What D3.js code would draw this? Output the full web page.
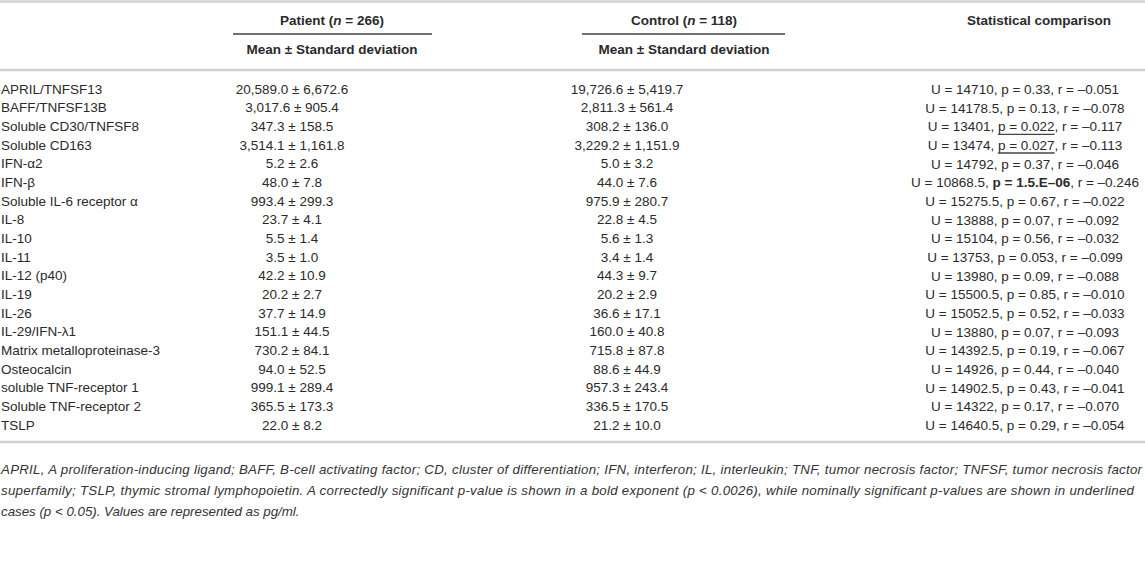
<!DOCTYPE html>
<html>
<head>
<meta charset="utf-8">
<script src="https://cdn.jsdelivr.net/npm/d3@7"></script>
<style>
  body { margin: 0; background: #fff; }
  text { font-family: "Liberation Sans", Arial, sans-serif; fill: #2a2a2a; }
</style>
</head>
<body>
<div id="table"></div>
<script>
var markers = ["APRIL/TNFSF13", "BAFF/TNFSF13B", "Soluble CD30/TNFSF8", "Soluble CD163", "IFN-\u03b12", "IFN-\u03b2",
  "Soluble IL-6 receptor \u03b1", "IL-8", "IL-10", "IL-11", "IL-12 (p40)", "IL-19", "IL-26", "IL-29/IFN-\u03bb1",
  "Matrix metalloproteinase-3", "Osteocalcin", "soluble TNF-receptor 1", "Soluble TNF-receptor 2", "TSLP"];
var patientMean = [20589.0, 3017.6, 347.3, 3514.1, 5.2, 48.0, 993.4, 23.7, 5.5, 3.5, 42.2, 20.2, 37.7, 151.1, 730.2, 94.0, 999.1, 365.5, 22.0];
var patientSD = [6672.6, 905.4, 158.5, 1161.8, 2.6, 7.8, 299.3, 4.1, 1.4, 1.0, 10.9, 2.7, 14.9, 44.5, 84.1, 52.5, 289.4, 173.3, 8.2];
var controlMean = [19726.6, 2811.3, 308.2, 3229.2, 5.0, 44.0, 975.9, 22.8, 5.6, 3.4, 44.3, 20.2, 36.6, 160.0, 715.8, 88.6, 957.3, 336.5, 21.2];
var controlSD = [5419.7, 561.4, 136.0, 1151.9, 3.2, 7.6, 280.7, 4.5, 1.3, 1.4, 9.7, 2.9, 17.1, 40.8, 87.8, 44.9, 243.4, 170.5, 10.0];
var uValues = ["14710", "14178.5", "13401", "13474", "14792", "10868.5", "15275.5", "13888", "15104", "13753", "13980",
  "15500.5", "15052.5", "13880", "14392.5", "14926", "14902.5", "14322", "14640.5"];
var pValues = ["0.33", "0.13", "0.022", "0.027", "0.37", "1.5.E\u201306", "0.67", "0.07", "0.56", "0.053", "0.09",
  "0.85", "0.52", "0.07", "0.19", "0.44", "0.43", "0.17", "0.29"];
var rValues = [-0.051, -0.078, -0.117, -0.113, -0.046, -0.246, -0.022, -0.092, -0.032, -0.099, -0.088,
  -0.010, -0.033, -0.093, -0.067, -0.040, -0.041, -0.070, -0.054];
// "u" = nominally significant (underlined), "b" = corrected significant (bold)
var pMark = ["", "", "u", "u", "", "b", "", "", "", "", "", "", "", "", "", "", "", "", ""];
var footnote = [
  "APRIL, A proliferation-inducing ligand; BAFF, B-cell activating factor; CD, cluster of differentiation; IFN, interferon; IL, interleukin; TNF, tumor necrosis factor; TNFSF, tumor necrosis factor",
  "superfamily; TSLP, thymic stromal lymphopoietin. A correctedly significant p-value is shown in a bold exponent (p < 0.0026), while nominally significant p-values are shown in underlined",
  "cases (p < 0.05). Values are represented as pg/ml."
];

var width = 1145, height = 561;
var svg = d3.select("#table").append("svg").attr("width", width).attr("height", height);

var fmt = d3.format(",.1f");
var fmtR = function (v) { return d3.format(".3f")(v).replace("\u2212", "\u2013").replace("-", "\u2013"); };

var y = d3.scalePoint().domain(markers).range([89, 425]);
var col = { label: 1, patient: 292, control: 627, stat: 1025 };
var head = { patient: 332, control: 684, stat: 1039 };

// rules
var rules = svg.append("g");
[1.5, 70, 442].forEach(function (yy) {
  rules.append("line").attr("x1", 0).attr("x2", width).attr("y1", yy).attr("y2", yy)
    .attr("stroke", "#d2d2d2").attr("stroke-width", 2.5);
});
[[233, 432], [582, 785]].forEach(function (s) {
  rules.append("line").attr("x1", s[0]).attr("x2", s[1]).attr("y1", 34).attr("y2", 34)
    .attr("stroke", "#444").attr("stroke-width", 1.3);
});

// header
var hdr = svg.append("g").attr("font-weight", "bold").attr("font-size", 13.5).attr("text-anchor", "middle")
  .attr("dominant-baseline", "central");
function groupHead(x, name, n) {
  var t = hdr.append("text").attr("x", x).attr("y", 20);
  t.append("tspan").text(name + " (");
  t.append("tspan").attr("font-style", "italic").text("n");
  t.append("tspan").text(" = " + n + ")");
  hdr.append("text").attr("x", x).attr("y", 49).text("Mean \u00b1 Standard deviation");
}
groupHead(head.patient, "Patient", 266);
groupHead(head.control, "Control", 118);
hdr.append("text").attr("x", head.stat).attr("y", 20).text("Statistical comparison");

// body rows
var body = svg.append("g").attr("font-size", 13.5).attr("dominant-baseline", "central");
var rows = body.selectAll("g.row").data(markers).join("g").attr("class", "row")
  .attr("transform", function (d) { return "translate(0," + y(d) + ")"; });

rows.append("text").attr("x", col.label).text(function (d) { return d; });
rows.append("text").attr("x", col.patient).attr("text-anchor", "middle")
  .text(function (d, i) { return fmt(patientMean[i]) + " \u00b1 " + fmt(patientSD[i]); });
rows.append("text").attr("x", col.control).attr("text-anchor", "middle")
  .text(function (d, i) { return fmt(controlMean[i]) + " \u00b1 " + fmt(controlSD[i]); });

var stat = rows.append("text").attr("x", col.stat).attr("text-anchor", "middle");
stat.append("tspan").text(function (d, i) { return "U = " + uValues[i] + ", "; });
stat.append("tspan")
  .attr("font-weight", function (d, i) { return pMark[i] === "b" ? "bold" : null; })
  .text(function (d, i) { return "p = " + pValues[i]; });
stat.append("tspan").text(function (d, i) { return ", r = " + fmtR(rValues[i]); });

// underline nominally significant p-values
stat.each(function (d, i) {
  if (pMark[i] !== "u") return;
  var node = this;
  var pre = ("U = " + uValues[i] + ", ").length;
  var len = ("p = " + pValues[i]).length;
  var x0 = node.getStartPositionOfChar(pre).x;
  var x1 = node.getEndPositionOfChar(pre + len - 1).x;
  d3.select(node.parentNode).append("line")
    .attr("x1", x0).attr("x2", x1).attr("y1", 8).attr("y2", 8)
    .attr("stroke", "#444").attr("stroke-width", 1.3);
});

// footnote (justified paragraph: full lines stretched to the table width)
var fullLine = [1141, 1133, null];
svg.append("g").attr("font-size", 13.3).attr("font-style", "italic")
  .selectAll("text").data(footnote).join("text")
  .attr("x", 1).attr("y", function (d, i) { return 474 + i * 21; })
  .attr("textLength", function (d, i) { return fullLine[i]; })
  .attr("lengthAdjust", "spacing")
  .style("fill", "#333")
  .text(function (d) { return d; });
</script>
</body>
</html>
